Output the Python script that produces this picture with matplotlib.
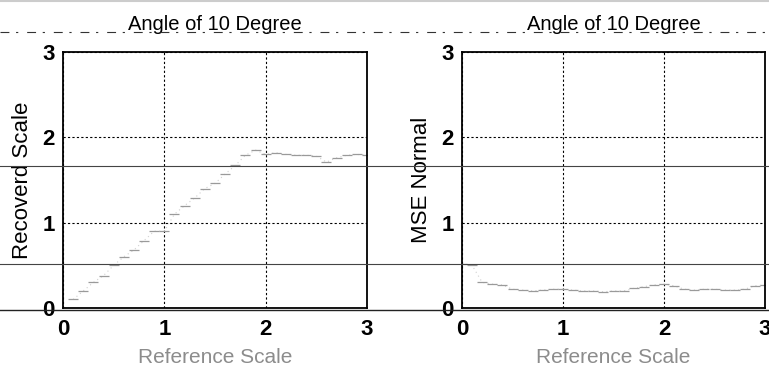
import matplotlib
matplotlib.use("Agg")
import matplotlib.pyplot as plt
from matplotlib.lines import Line2D

plt.rcParams['font.family'] = ['Liberation Sans', 'DejaVu Sans']

title_text = "Angle of 10 Degree"
xlabel_text = "Reference Scale"
ylabel_left = "Recoverd Scale"
ylabel_right = "MSE Normal"
ticks = [0, 1, 2, 3]

ref_left = [0.1, 0.2, 0.3, 0.4, 0.5, 0.6, 0.7, 0.8, 0.9, 1.0,
            1.1, 1.2, 1.3, 1.4, 1.5, 1.6, 1.7, 1.8, 1.9, 2.0,
            2.1, 2.2, 2.3, 2.4, 2.5, 2.6, 2.7, 2.8, 2.9, 3.0]
recovered = [0.10, 0.20, 0.30, 0.38, 0.50, 0.60, 0.68, 0.79, 0.90, 0.90,
             1.10, 1.20, 1.29, 1.40, 1.46, 1.57, 1.67, 1.79, 1.85, 1.80,
             1.82, 1.80, 1.79, 1.79, 1.78, 1.71, 1.76, 1.79, 1.80, 1.79]

ref_right = [0.0, 0.1, 0.2, 0.3, 0.4, 0.5, 0.6, 0.7, 0.8, 0.9, 1.0,
             1.1, 1.2, 1.3, 1.4, 1.5, 1.6, 1.7, 1.8, 1.9, 2.0,
             2.1, 2.2, 2.3, 2.4, 2.5, 2.6, 2.7, 2.8, 2.9, 3.0]
mse = [0.52, 0.50, 0.30, 0.28, 0.27, 0.22, 0.21, 0.20, 0.21, 0.22, 0.22,
       0.21, 0.20, 0.20, 0.19, 0.20, 0.20, 0.23, 0.25, 0.27, 0.28,
       0.26, 0.22, 0.21, 0.22, 0.22, 0.21, 0.21, 0.22, 0.26, 0.27]

W, H = 769, 372
fig = plt.figure(figsize=(W / 100, H / 100), dpi=100)

def make_axes(left_px, right_px, xs, ys, ylabel, ylab_x_px):
    ax = fig.add_axes([left_px / W, 1 - 308 / H, (right_px - left_px) / W, (308 - 52) / H])
    ax.plot(xs, ys, linestyle=(0, (1, 3)), color='#d0d0d0', linewidth=0.8,
            marker='_', markersize=7, markeredgecolor='#9a9a9a', markeredgewidth=0.9)
    ax.set_xlim(0, 3)
    ax.set_ylim(0, 3)
    ax.set_xticks(ticks)
    ax.set_yticks(ticks)
    ax.set_xticklabels([str(t) for t in ticks], fontsize=16, fontweight='bold')
    ax.set_yticklabels([str(t) for t in ticks], fontsize=16, fontweight='bold')
    ax.grid(True, linestyle=(0, (2, 2)), color='black', linewidth=0.8)
    ax.tick_params(length=0, pad=6)
    ax.tick_params(axis='x', pad=8)
    for s in ax.spines.values():
        s.set_linewidth(1.3)
    ax.set_title(title_text, fontsize=14.5, pad=16)
    ax.set_xlabel(xlabel_text, fontsize=15, color='#8c8c8c', labelpad=6)
    ax.set_ylabel(ylabel, fontsize=16)
    ax.yaxis.set_label_coords((ylab_x_px - left_px) / (right_px - left_px), 0.5)
    return ax

ax1 = make_axes(63, 367, ref_left, recovered, ylabel_left, 33)
ax2 = make_axes(462, 765, ref_right, mse, ylabel_right, 432)

# scan artifact lines spanning the page
fig.add_artist(Line2D([0, 1], [1 - 1 / H, 1 - 1 / H], transform=fig.transFigure,
                      color='#cccccc', linewidth=1.5))
fig.add_artist(Line2D([0, 1], [1 - 32 / H, 1 - 32 / H], transform=fig.transFigure,
                      color='#333333', linewidth=0.8, linestyle=(0, (8, 6, 2, 8))))
fig.add_artist(Line2D([0, 1], [1 - 166 / H, 1 - 166 / H], transform=fig.transFigure,
                      color='#444444', linewidth=0.8))
fig.add_artist(Line2D([0, 1], [1 - 264 / H, 1 - 264 / H], transform=fig.transFigure,
                      color='#444444', linewidth=0.8))
fig.add_artist(Line2D([0, 1], [1 - 310 / H, 1 - 310 / H], transform=fig.transFigure,
                      color='#222222', linewidth=1.0))

fig.savefig("out.png", dpi=100)
